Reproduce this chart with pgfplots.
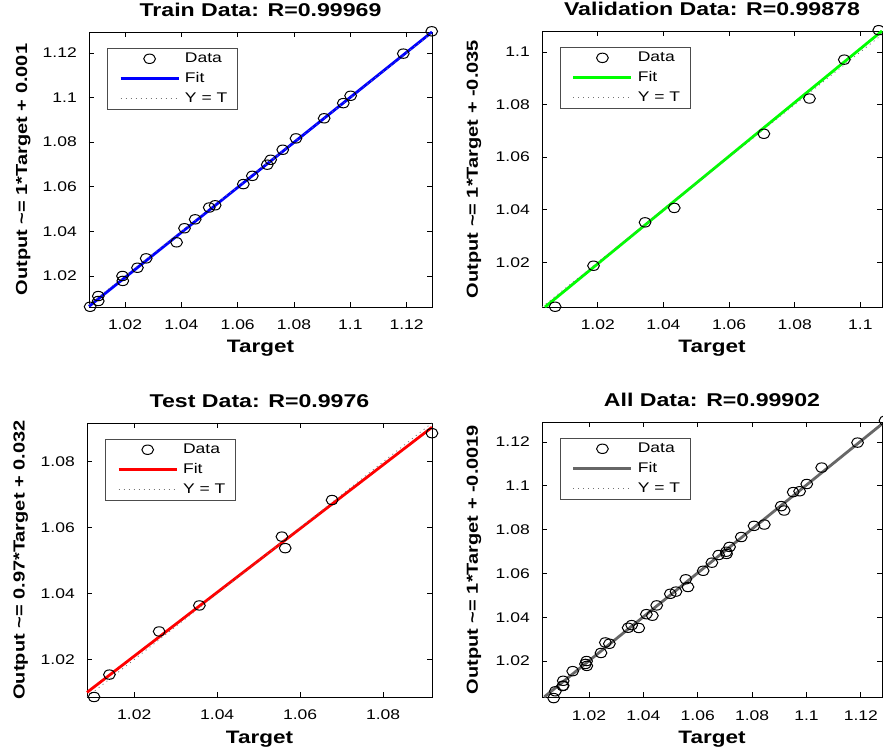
\documentclass[border=0pt]{standalone}
\usepackage{fontspec}
\setmainfont{Liberation Sans}[FakeStretch=1.25]
\usepackage{pgfplots}
\pgfplotsset{compat=1.18}
\definecolor{allgray}{rgb}{0.4,0.4,0.4}
\pgfplotsset{
  reg/.style={
    scale only axis, clip=false,
    axis line style={black, line width=0.9pt},
    tick align=inside, major tick length=5pt,
    tick style={black, line width=0.8pt},
    /pgf/number format/assume math mode=true,
    /pgf/number format/fixed, /pgf/number format/precision=2,
    scaled ticks=false,
    tick label style={font=\fontsize{14}{16}\selectfont},
    xticklabel style={anchor=base, yshift=-23pt, inner sep=0pt},
    yticklabel style={anchor=east, xshift=-12pt, inner sep=0pt},
    title style={at={(0.5,1)}, anchor=base, yshift=9pt, inner sep=0pt, font=\bfseries\fontsize{18.5}{20}\selectfont},
    xlabel style={at={(axis description cs:0.5,0)}, anchor=base, yshift=-46pt, inner sep=0pt, font=\bfseries\fontsize{18}{20}\selectfont},
    ylabel style={anchor=center, inner sep=0pt, font=\bfseries\fontsize{16}{18}\selectfont},
    xlabel={Target},
    legend cell align=left,
    legend style={at={(axis description cs:0.052,0.942)}, anchor=north west,
      draw=black!70, line width=0.7pt, fill=white,
      font=\fontsize{14}{16}\selectfont,
      inner xsep=5pt, inner ysep=2pt, row sep=3pt,
      nodes={inner xsep=5pt, inner ysep=2pt, text height=10pt, text depth=3pt}},
    legend image code/.code={\path (0pt,0pt); \draw[mark repeat=2,mark phase=2,##1] plot coordinates {(7pt,0pt) (36pt,0pt) (65pt,0pt)};},
  },
  data/.style={only marks, mark=o, mark size=4.7pt, mark options={xscale=1.25, line width=1pt, draw=black}},
  fit/.style={no marks, line width=2.8pt},
  yt/.style={no marks, line width=0.8pt, black!55, dash pattern=on 1pt off 4pt},
}
\pgfplotstableread{
x y
1.0076 1.0062
1.0105 1.0110
1.0105 1.0088
1.0191 1.0200
1.0192 1.0178
1.0244 1.0237
1.0275 1.0279
1.0383 1.0351
1.0411 1.0414
1.0449 1.0454
1.0499 1.0507
1.0520 1.0517
1.0620 1.0612
1.0652 1.0649
1.0705 1.0699
1.0717 1.0721
1.0760 1.0766
1.0807 1.0817
1.0907 1.0907
1.0975 1.0975
1.1001 1.1008
1.1188 1.1197
1.1289 1.1297
}\traindata
\pgfplotstableread{
x y
1.0070 1.0031
1.0187 1.0187
1.0344 1.0352
1.0433 1.0407
1.0706 1.0689
1.0845 1.0823
1.0951 1.0971
1.1056 1.1083
}\valdata
\pgfplotstableread{
x y
1.0103 1.0086
1.0140 1.0154
1.0260 1.0285
1.0357 1.0364
1.0556 1.0573
1.0564 1.0538
1.0677 1.0684
1.0918 1.0887
}\testdata
\begin{document}
\begin{tikzpicture}
\path[use as bounding box] (0pt,0pt) rectangle (883pt,752pt);
% Train
\begin{axis}[reg, at={(89pt,445pt)}, width=343pt, height=275pt,
  xmin=1.0072, xmax=1.1290, ymin=1.0061, ymax=1.1294,
  xtick={1.02,1.04,1.06,1.08,1.1,1.12}, ytick={1.02,1.04,1.06,1.08,1.1,1.12},
  title={Train Data: R=0.99969},
  ylabel={Output \textasciitilde= 1*Target + 0.001},
  ylabel style={at={(axis description cs:-0.192,0.5)}}]
\addplot[data] table {\traindata};
\addlegendentry{Data}
\addplot[fit, blue] coordinates {(1.0072,1.0064) (1.1290,1.1294)};
\addlegendentry{Fit}
\addplot[yt] coordinates {(1.0072,1.0072) (1.1290,1.1290)};
\addlegendentry{Y = T}
\end{axis}
% Validation
\begin{axis}[reg, at={(542pt,445pt)}, width=340pt, height=276pt,
  xmin=1.0030, xmax=1.1066, ymin=1.0030, ymax=1.1080,
  xtick={1.02,1.04,1.06,1.08,1.1}, ytick={1.02,1.04,1.06,1.08,1.1},
  title={Validation Data: R=0.99878},
  ylabel={Output \textasciitilde= 1*Target + -0.035},
  ylabel style={at={(axis description cs:-0.2,0.5)}}]
\addplot[data] table {\valdata};
\addlegendentry{Data}
\addplot[fit, green] coordinates {(1.0039,1.0030) (1.1066,1.1080)};
\addlegendentry{Fit}
\addplot[yt] coordinates {(1.0030,1.0030) (1.1066,1.1066)};
\addlegendentry{Y = T}
\end{axis}
% Test
\begin{axis}[reg, at={(87pt,55pt)}, width=345pt, height=274pt,
  xmin=1.0086, xmax=1.0918, ymin=1.0086, ymax=1.0918,
  xtick={1.02,1.04,1.06,1.08}, ytick={1.02,1.04,1.06,1.08},
  title={Test Data: R=0.9976},
  ylabel={Output \textasciitilde= 0.97*Target + 0.032},
  ylabel style={at={(axis description cs:-0.192,0.5)}}]
\addplot[data] table {\testdata};
\addlegendentry{Data}
\addplot[fit, red] coordinates {(1.0086,1.0100) (1.0918,1.0905)};
\addlegendentry{Fit}
\addplot[yt] coordinates {(1.0086,1.0086) (1.0918,1.0918)};
\addlegendentry{Y = T}
\end{axis}
% All
\begin{axis}[reg, at={(542pt,55pt)}, width=340pt, height=275pt,
  xmin=1.0027, xmax=1.1278, ymin=1.0036, ymax=1.1291,
  xtick={1.02,1.04,1.06,1.08,1.1,1.12}, ytick={1.02,1.04,1.06,1.08,1.1,1.12},
  title={All Data: R=0.99902},
  ylabel={Output \textasciitilde= 1*Target + -0.0019},
  ylabel style={at={(axis description cs:-0.2,0.5)}}]
\addplot[data, forget plot] table {\traindata};
\addplot[data, forget plot] table {\valdata};
\addplot[data] table {\testdata};
\addlegendentry{Data}
\addplot[fit, allgray] coordinates {(1.0035,1.0036) (1.1278,1.1282)};
\addlegendentry{Fit}
\addplot[yt] coordinates {(1.0036,1.0036) (1.1278,1.1278)};
\addlegendentry{Y = T}
\end{axis}
\end{tikzpicture}
\end{document}
